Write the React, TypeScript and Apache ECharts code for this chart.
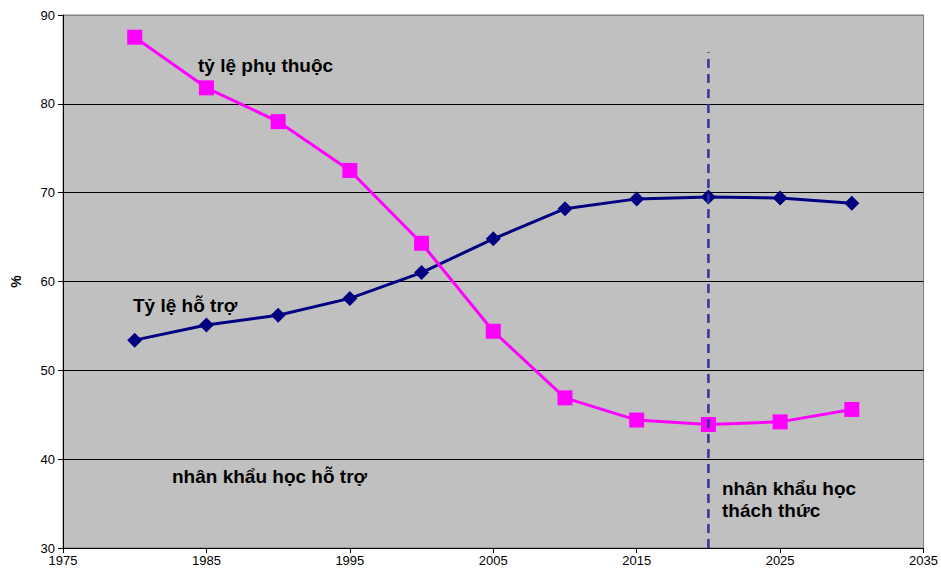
import React, { useEffect, useRef } from "react";
import * as echarts from "echarts";

const years = [1980, 1985, 1990, 1995, 2000, 2005, 2010, 2015, 2020, 2025, 2030];
const dependency = [87.5, 81.8, 78.0, 72.5, 64.3, 54.4, 46.9, 44.4, 43.9, 44.2, 45.6];
const support = [53.4, 55.1, 56.2, 58.1, 61.0, 64.8, 68.2, 69.3, 69.5, 69.4, 68.8];
const dividerYear = 2020;
const dividerRange = [30, 85.8];

const FONT = "'Liberation Sans', Arial, sans-serif";

export default function App() {
  const ref = useRef<HTMLDivElement>(null);
  useEffect(() => {
    if (!ref.current) return;
    const chart = echarts.init(ref.current, null, { renderer: "svg" });
    const labelStyle = { fontFamily: FONT, fontSize: 19, fontWeight: "bold", fill: "#000" };
    chart.setOption({
      animation: false,
      backgroundColor: "#fff",
      grid: {
        left: 63,
        right: 14,
        top: 15,
        bottom: 25,
        show: true,
        backgroundColor: "#C0C0C0",
        borderColor: "#808080",
        borderWidth: 1,
      },
      xAxis: {
        type: "value",
        min: 1975,
        max: 2035,
        interval: 10,
        axisLine: { show: true, lineStyle: { color: "#000", width: 1 } },
        axisTick: { show: true, length: 5, lineStyle: { color: "#000" } },
        axisLabel: { color: "#000", fontFamily: FONT, fontSize: 13, margin: 6, formatter: (v: number) => String(v) },
        splitLine: { show: false },
      },
      yAxis: {
        type: "value",
        min: 30,
        max: 90,
        interval: 10,
        name: "%",
        nameLocation: "middle",
        nameGap: 40,
        nameRotate: 90,
        nameTextStyle: { color: "#000", fontFamily: FONT, fontSize: 14, fontWeight: "bold" },
        axisLine: { show: true, lineStyle: { color: "#000", width: 1 } },
        axisTick: { show: true, length: 5, lineStyle: { color: "#000" } },
        axisLabel: { color: "#000", fontFamily: FONT, fontSize: 13, margin: 8 },
        splitLine: {
          show: true,
          lineStyle: {
            color: ["#000", "#000", "#000", "#000", "#000", "#000", "#808080"],
            width: 1,
          },
        },
      },
      series: [
        {
          type: "line",
          name: "Tỷ lệ hỗ trợ",
          data: years.map((y, i) => [y, support[i]]),
          symbol: "diamond",
          symbolSize: 15,
          itemStyle: { color: "#000080" },
          lineStyle: { color: "#000080", width: 3 },
          z: 3,
        },
        {
          type: "line",
          name: "tỷ lệ phụ thuộc",
          data: years.map((y, i) => [y, dependency[i]]),
          symbol: "rect",
          symbolSize: 15,
          itemStyle: { color: "#FF00FF" },
          lineStyle: { color: "#FF00FF", width: 3 },
          z: 4,
        },
        {
          type: "line",
          name: "divider",
          data: dividerRange.map((v) => [dividerYear, v]),
          symbol: "none",
          lineStyle: { color: "#333399", width: 2.5, type: [9, 6] },
          z: 5,
        },
      ],
      graphic: [
        { type: "text", left: 198, top: 56, style: { ...labelStyle, text: "tỷ lệ phụ thuộc" } },
        { type: "text", left: 133, top: 296, style: { ...labelStyle, text: "Tỷ lệ hỗ trợ" } },
        { type: "text", left: 172, top: 467, style: { ...labelStyle, text: "nhân khẩu học hỗ trợ" } },
        { type: "text", left: 722, top: 479, style: { ...labelStyle, text: "nhân khẩu học" } },
        { type: "text", left: 722, top: 501, style: { ...labelStyle, text: "thách thức" } },
      ],
    });
    return () => chart.dispose();
  }, []);
  return <div ref={ref} style={{ width: 941, height: 573, position: "absolute", left: 0, top: 0 }} />;
}
